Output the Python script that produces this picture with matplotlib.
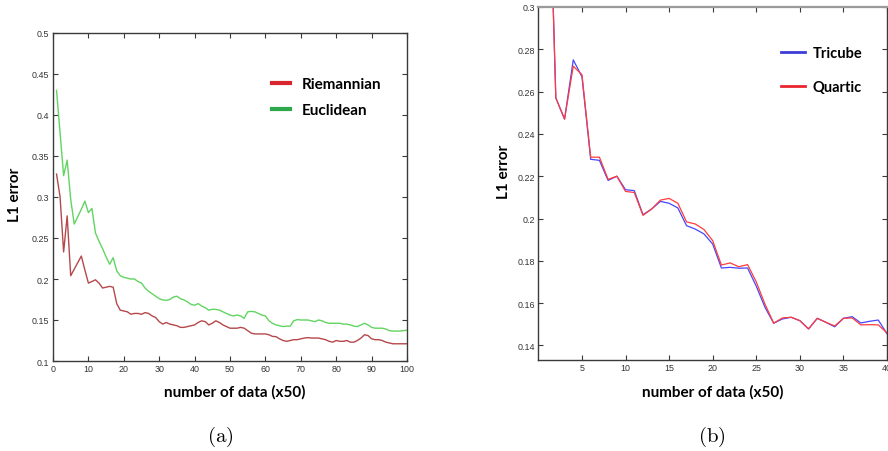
import numpy as np
import matplotlib
matplotlib.use("Agg")
import matplotlib.pyplot as plt
from matplotlib.lines import Line2D

plt.rcParams["mathtext.fontset"] = "cm"

# ---- (a) Riemannian vs Euclidean ----
n_data_a = list(range(1, 101))
riemannian = [
    0.328, 0.300, 0.233, 0.277, 0.204, 0.212, 0.220, 0.228, 0.211, 0.195,
    0.197, 0.199, 0.195, 0.189, 0.190, 0.191, 0.190, 0.170, 0.162, 0.161,
    0.160, 0.157, 0.158, 0.158, 0.157, 0.159, 0.158, 0.155, 0.153, 0.148,
    0.145, 0.147, 0.145, 0.144, 0.143, 0.141, 0.141, 0.142, 0.143, 0.144,
    0.147, 0.149, 0.148, 0.144, 0.146, 0.149, 0.147, 0.144, 0.142, 0.140,
    0.140, 0.140, 0.141, 0.140, 0.137, 0.134, 0.133, 0.133, 0.133, 0.133,
    0.132, 0.130, 0.1297, 0.127, 0.125, 0.124, 0.125, 0.126, 0.126, 0.127,
    0.128, 0.1285, 0.128, 0.128, 0.128, 0.127, 0.126, 0.124, 0.123, 0.125,
    0.124, 0.124, 0.125, 0.123, 0.123, 0.125, 0.128, 0.132, 0.131, 0.127,
    0.126, 0.126, 0.125, 0.123, 0.122, 0.121, 0.121, 0.121, 0.121, 0.121,
]
euclidean = [
    0.430, 0.378, 0.326, 0.345, 0.297, 0.267, 0.276, 0.285, 0.295, 0.281,
    0.286, 0.256, 0.246, 0.237, 0.227, 0.218, 0.226, 0.210, 0.204, 0.202,
    0.201, 0.200, 0.200, 0.197, 0.195, 0.189, 0.185, 0.182, 0.179, 0.176,
    0.1745, 0.174, 0.175, 0.178, 0.179, 0.176, 0.1745, 0.172, 0.169, 0.168,
    0.170, 0.167, 0.165, 0.162, 0.163, 0.163, 0.162, 0.160, 0.158, 0.156,
    0.155, 0.156, 0.155, 0.152, 0.160, 0.1605, 0.160, 0.158, 0.156, 0.155,
    0.149, 0.146, 0.144, 0.143, 0.142, 0.1425, 0.1425, 0.149, 0.1505, 0.150,
    0.150, 0.150, 0.149, 0.148, 0.150, 0.149, 0.147, 0.146, 0.146, 0.146,
    0.146, 0.145, 0.145, 0.144, 0.1425, 0.142, 0.144, 0.146, 0.144, 0.141,
    0.140, 0.140, 0.140, 0.139, 0.137, 0.1365, 0.1365, 0.1365, 0.137, 0.1375,
]
xticks_a = list(range(0, 101, 10))
yticks_a = [0.1, 0.15, 0.2, 0.25, 0.3, 0.35, 0.4, 0.45, 0.5]
labels_a = ["Riemannian", "Euclidean"]

# ---- (b) Tricube vs Quartic kernels ----
n_data_b = list(range(1, 41))
tricube = [
    0.400, 0.257, 0.247, 0.275, 0.267, 0.228, 0.2275, 0.218, 0.220, 0.2136,
    0.2132, 0.2018, 0.2045, 0.2081, 0.2072, 0.2050, 0.1966, 0.1950, 0.1927, 0.1879,
    0.1766, 0.1769, 0.1765, 0.1766, 0.1680, 0.1580, 0.1505, 0.1525, 0.1533, 0.1517,
    0.1478, 0.1528, 0.1509, 0.1488, 0.1528, 0.1536, 0.1506, 0.1514, 0.1520, 0.1455,
]
quartic = [
    0.400, 0.257, 0.247, 0.272, 0.268, 0.229, 0.229, 0.2185, 0.220, 0.2128,
    0.2123, 0.2015, 0.2045, 0.2087, 0.2095, 0.2072, 0.1984, 0.1974, 0.1948, 0.1895,
    0.1780, 0.1790, 0.1772, 0.1782, 0.1700, 0.1595, 0.1505, 0.1530, 0.1533, 0.1517,
    0.1478, 0.1528, 0.1509, 0.1492, 0.1528, 0.1530, 0.1497, 0.1498, 0.1497, 0.1459,
]
xticks_b = list(range(5, 41, 5))
yticks_b = [0.14, 0.16, 0.18, 0.2, 0.22, 0.24, 0.26, 0.28, 0.3]
labels_b = ["Tricube", "Quartic"]

W, H = 888, 452
fig = plt.figure(figsize=(W / 100, H / 100), dpi=100)
fig.patch.set_facecolor("white")


def px_axes(x0, y0, x1, y1):
    return fig.add_axes([x0 / W, 1 - y1 / H, (x1 - x0) / W, (y1 - y0) / H])


def style_axes(ax, spine_color="#3a3a3a"):
    for s in ax.spines.values():
        s.set_color(spine_color)
        s.set_linewidth(1.0)
    ax.tick_params(direction="in", top=True, right=True, length=3.5,
                   width=0.8, color="#3a3a3a", labelsize=6.4,
                   labelcolor="#333333", pad=2.5)
    for lab in ax.get_xticklabels() + ax.get_yticklabels():
        lab.set_family("Liberation Sans")


label_font = dict(family="Lato", weight="bold", size=11, color="black")

# (a)
ax1 = px_axes(53, 34, 407, 362)
ax1.plot(n_data_a, riemannian, color="#b5484b", lw=1.0)
ax1.plot(n_data_a, euclidean, color="#62d462", lw=1.0)
ax1.set_xlim(0, 100)
ax1.set_ylim(0.1, 0.5)
ax1.set_xticks(xticks_a)
ax1.set_yticks(yticks_a)
ax1.set_xticklabels([str(t) for t in xticks_a])
ax1.set_yticklabels([f"{t:g}" for t in yticks_a])
style_axes(ax1)
handles_a = [Line2D([], [], color="#d8262f", lw=3),
             Line2D([], [], color="#2ea84a", lw=3)]
ax1.legend(handles_a, labels_a, loc="center left",
           bbox_to_anchor=(272 / W, 1 - 98 / H), bbox_transform=fig.transFigure,
           frameon=False, borderpad=0, borderaxespad=0, handlelength=1.2,
           handletextpad=0.75, labelspacing=0.8,
           prop=dict(family="Lato", weight="bold", size=11))

fig.text(15 / W, 1 - 195 / H, "L1 error", rotation=90, ha="center",
         va="center", **label_font)
fig.text(235 / W, 1 - 392 / H, "number of data (x50)", ha="center",
         va="center", **label_font)
fig.text(220 / W, 1 - 437 / H, r"$\mathrm{(a)}$", ha="center", va="center",
         fontsize=15)

# (b)
ax2 = px_axes(538.4, 8, 887, 361)
ax2.plot(n_data_b, tricube, color="#4646ff", lw=0.9)
ax2.plot(n_data_b, quartic, color="#ff3c3c", lw=0.9)
ax2.set_xlim(0, 40)
ax2.set_ylim(0.1331, 0.3)
ax2.set_xticks(xticks_b)
ax2.set_yticks(yticks_b)
ax2.set_xticklabels([str(t) for t in xticks_b])
ax2.set_yticklabels([f"{t:g}" for t in yticks_b])
style_axes(ax2)
ax2.spines["top"].set_color("#9a9a9a")
ax2.spines["top"].set_linewidth(1.6)
handles_b = [Line2D([], [], color="#3c3cd8", lw=2),
             Line2D([], [], color="#ea2630", lw=2)]
ax2.legend(handles_b, labels_b, loc="center left",
           bbox_to_anchor=(781 / W, 1 - 71 / H), bbox_transform=fig.transFigure,
           frameon=False, borderpad=0, borderaxespad=0, handlelength=1.65,
           handletextpad=0.5, labelspacing=1.4,
           prop=dict(family="Lato", weight="bold", size=10.5))

fig.text(504 / W, 1 - 172 / H, "L1 error", rotation=90, ha="center",
         va="center", **label_font)
fig.text(713 / W, 1 - 392 / H, "number of data (x50)", ha="center",
         va="center", **label_font)
fig.text(712 / W, 1 - 437 / H, r"$\mathrm{(b)}$", ha="center", va="center",
         fontsize=15)

fig.savefig("out.png", dpi=100, facecolor="white")
